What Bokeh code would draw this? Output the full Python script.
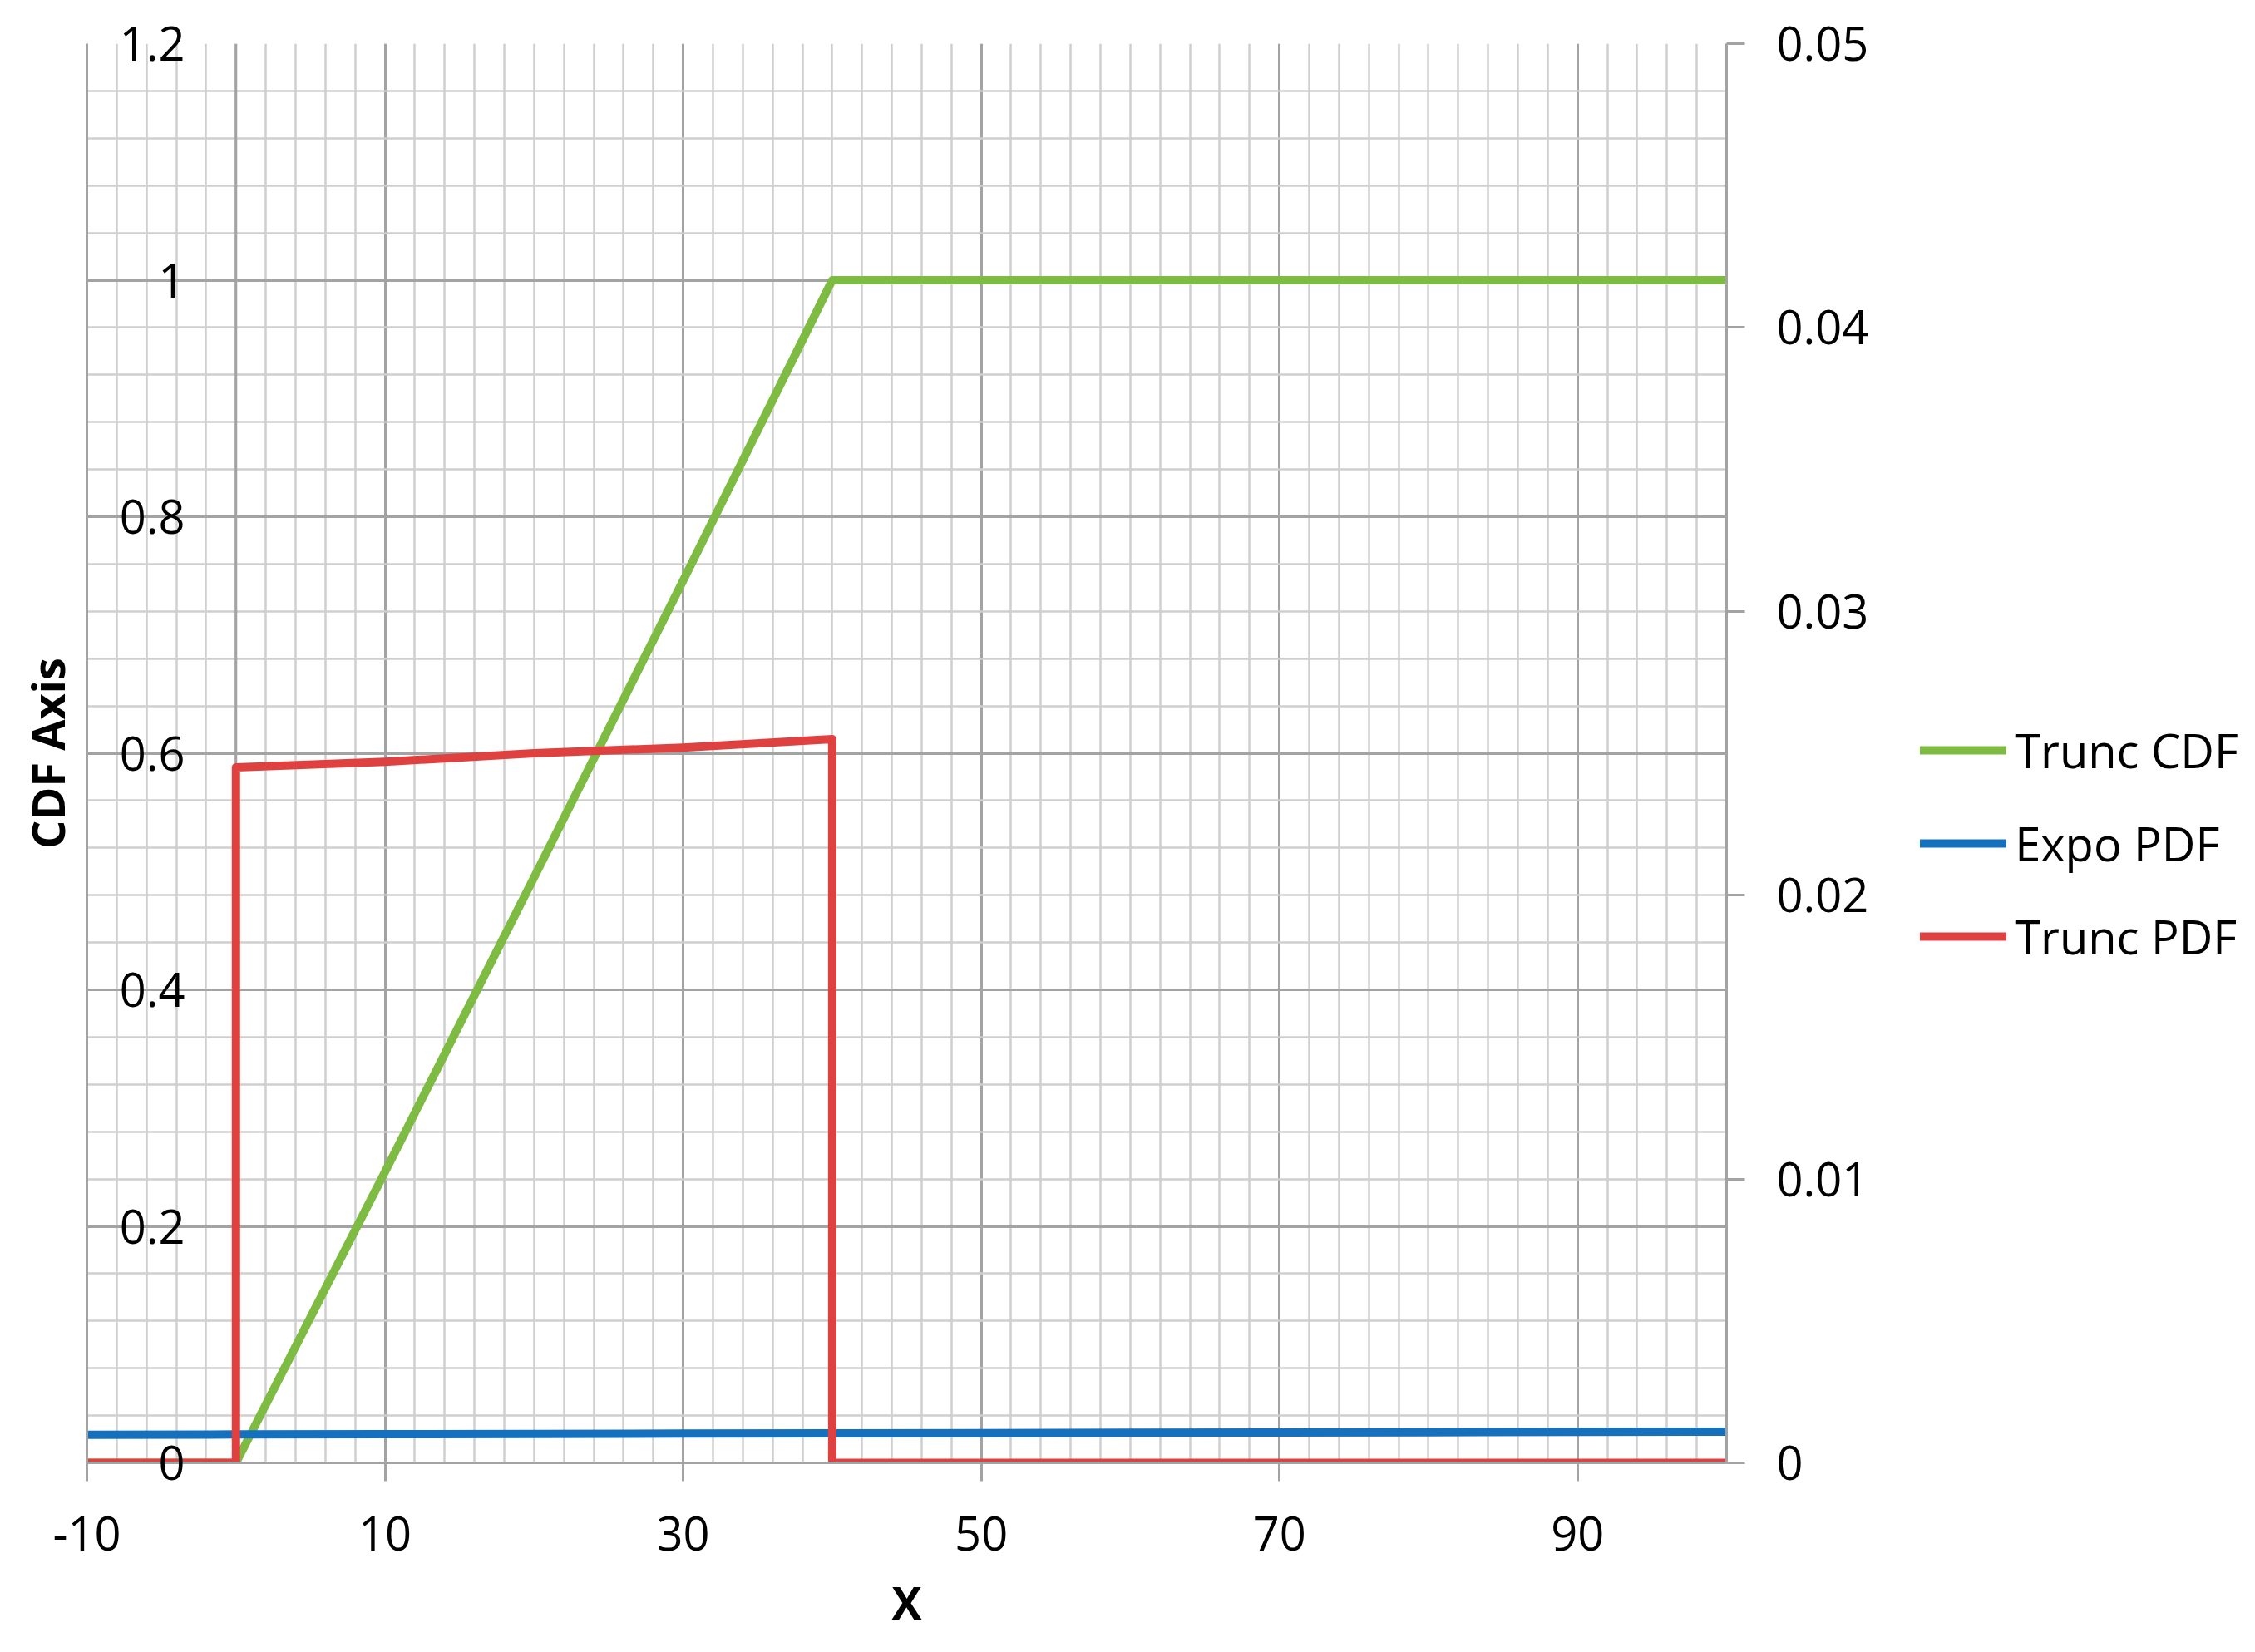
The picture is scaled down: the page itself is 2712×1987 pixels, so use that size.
from bokeh.plotting import figure
from bokeh.embed import file_html
from bokeh.resources import INLINE
from bokeh.models import LinearAxis, Range1d, FixedTicker, Legend, LegendItem, Span
import numpy as np

# series
x_cdf = [-10, 0, 10, 20, 30, 40, 50, 60, 70, 80, 90, 100]
trunc_cdf = [0, 0, 0.246, 0.495, 0.746, 1.0, 1.0, 1.0, 1.0, 1.0, 1.0, 1.0]

x_expo = [-10, 0, 10, 20, 30, 40, 50, 60, 70, 80, 90, 100]
expo_pdf = [0.00099, 0.00100, 0.00101, 0.00102, 0.00103, 0.00104,
            0.00105, 0.00106, 0.00107, 0.00108, 0.00109, 0.00110]

x_tpdf = [-10, 0, 0, 10, 20, 30, 40, 40, 100]
trunc_pdf = [0, 0, 0.0245, 0.0247, 0.0250, 0.0252, 0.0255, 0, 0]

x_ticks = [-10, 10, 30, 50, 70, 90]
x_labels = ["-10", "10", "30", "50", "70", "90"]
cdf_ticks = [0, 0.2, 0.4, 0.6, 0.8, 1.0, 1.2]
cdf_labels = ["0", "0.2", "0.4", "0.6", "0.8", "1", "1.2"]
pdf_ticks = [0, 0.01, 0.02, 0.03, 0.04, 0.05]
pdf_labels = ["0", "0.01", "0.02", "0.03", "0.04", "0.05"]

FONT = "Open Sans"
MAJOR = "#a3a3a3"
MINOR = "#cfcfcf"

p = figure(
    frame_width=1972,
    frame_height=1707,
    x_range=Range1d(-10, 100),
    y_range=Range1d(0, 1.2),
    min_border_left=104,
    min_border_right=620,
    min_border_top=52,
    min_border_bottom=212,
    output_backend="svg",
    toolbar_location=None,
    tools="",
)
p.outline_line_color = None
p.extra_y_ranges = {"pdf": Range1d(0, 0.05)}

# grid: majors on labelled ticks, minors every 2 / 0.04
p.xgrid.ticker = FixedTicker(ticks=x_ticks, minor_ticks=list(np.arange(-10, 101, 2)))
p.ygrid.ticker = FixedTicker(ticks=cdf_ticks, minor_ticks=list(np.round(np.arange(0, 1.21, 0.04), 2)))
for g in (p.xgrid, p.ygrid):
    g.grid_line_color = MAJOR
    g.grid_line_width = 3
    g.minor_grid_line_color = MINOR
    g.minor_grid_line_width = 2.5

# vertical axis crosses at x = 0
p.add_layout(Span(location=0, dimension="height", line_color=MAJOR, line_width=3, level="underlay"))

# bottom axis
xa = p.xaxis[0]
xa.ticker = FixedTicker(ticks=x_ticks, minor_ticks=[])
xa.major_label_overrides = dict(zip(x_ticks, x_labels))
xa.axis_label = "X"
xa.axis_label_standoff = 22
xa.major_label_standoff = 42
xa.major_tick_out = 22
xa.major_tick_in = 0
xa.minor_tick_line_color = None

# left axis: labels pulled inside the frame, next to x = 0
ya = p.yaxis[0]
ya.ticker = FixedTicker(ticks=cdf_ticks, minor_ticks=[])
ya.major_label_overrides = dict(zip(cdf_ticks, cdf_labels))
ya.major_tick_out = 0
ya.major_tick_in = 0
ya.minor_tick_line_color = None
ya.major_label_standoff = -118
ya.axis_label = "CDF Axis"
ya.axis_label_standoff = 47

ra = LinearAxis(y_range_name="pdf", ticker=FixedTicker(ticks=pdf_ticks, minor_ticks=[]),
                major_label_overrides=dict(zip(pdf_ticks, pdf_labels)),
                major_tick_out=22, major_tick_in=0, major_label_standoff=38,
                minor_tick_line_color=None)
p.add_layout(ra, "right")

for ax in (xa, ya, ra):
    ax.axis_line_color = MAJOR
    ax.axis_line_width = 3
    ax.major_tick_line_width = 3
    ax.major_tick_line_color = MAJOR
    ax.major_label_text_font = FONT
    ax.major_label_text_font_size = "56px"
    ax.major_label_text_color = "black"
    ax.axis_label_text_font = FONT
    ax.axis_label_text_font_size = "54px"
    ax.axis_label_text_font_style = "bold"
    ax.axis_label_text_color = "black"

r_cdf = p.line(x_cdf, trunc_cdf, color="#7dbb42", line_width=10, line_cap="round", line_join="round")
r_expo = p.line(x_expo, expo_pdf, color="#1570be", line_width=10, line_cap="round",
                line_join="round", y_range_name="pdf")
r_tpdf = p.line(x_tpdf, trunc_pdf, color="#df4141", line_width=10, line_cap="round",
                line_join="round", y_range_name="pdf")

legend = Legend(
    items=[LegendItem(label="Trunc CDF", renderers=[r_cdf]),
           LegendItem(label="Expo PDF", renderers=[r_expo]),
           LegendItem(label="Trunc PDF", renderers=[r_tpdf])],
    location=(-139, 577),
    padding=0, margin=0, spacing=0,
    glyph_width=104, glyph_height=112, label_height=112, label_standoff=10,
    label_text_font=FONT, label_text_font_size="56px", label_text_color="black",
    border_line_color=None, background_fill_alpha=0,
)
p.add_layout(legend, "right")

open("out.html", "w").write(file_html(p, INLINE))
